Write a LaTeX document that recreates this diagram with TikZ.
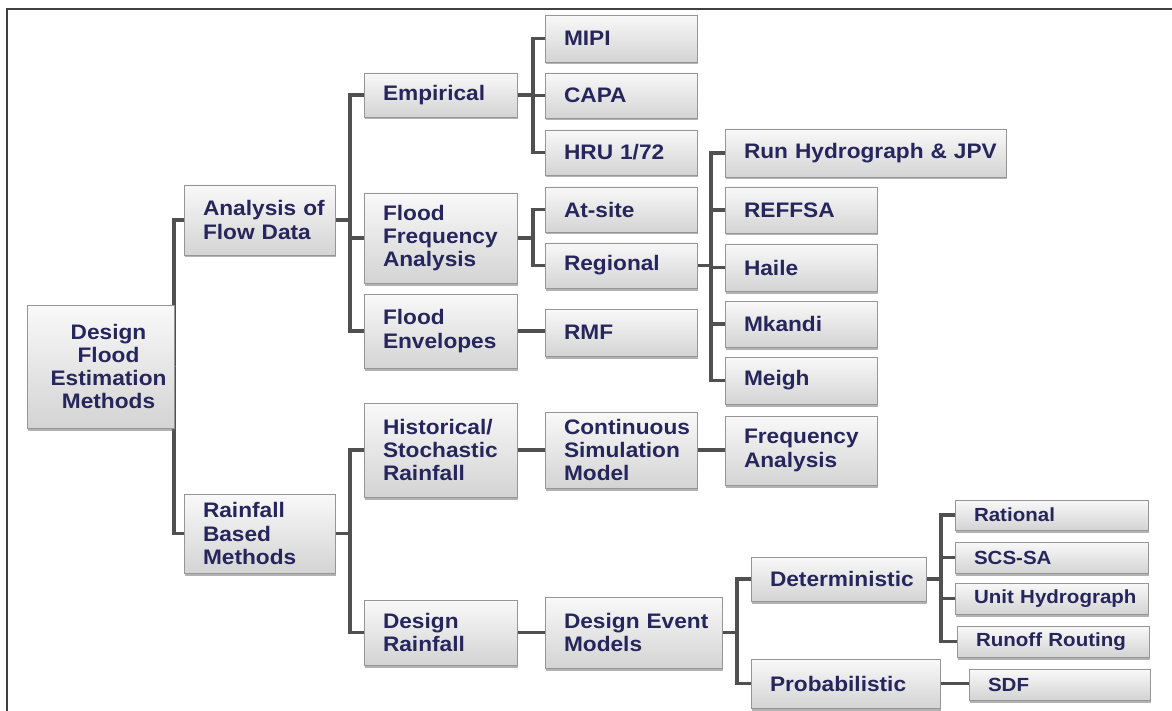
\documentclass[tikz,border=0pt]{standalone}
\usepackage{fontspec}
\setmainfont[FakeStretch=1.08]{Liberation Sans}
\usetikzlibrary{shadows,backgrounds}
\hfuzz=300pt \hbadness=10000
\definecolor{navy}{RGB}{38,38,92}
\definecolor{conncol}{RGB}{80,80,80}
\definecolor{boxedge}{RGB}{150,150,150}
\tikzset{
 box/.style={draw=boxedge, line width=0.8pt, top color=gray!5, bottom color=gray!34,
   drop shadow={shadow xshift=1.2pt, shadow yshift=-2.5pt, opacity=0.5, fill=black!60},
   inner xsep=19pt, inner ysep=0pt, align=left, text=navy,
   font=\fontsize{21}{23.3}\selectfont\bfseries, anchor=center},
 smalltext/.style={font=\fontsize{19}{21}\selectfont\bfseries},
 conn/.style={draw=conncol, line width=3.3pt},
 framebar/.style={draw=black!75, line width=2pt}
}
\newcommand\BoxNode[7][]{%
 \pgfmathsetmacro\bw{#5-#3}\pgfmathsetmacro\bh{#6-#4}%
 \pgfmathsetmacro\tw{#5-#3-38}%
 \pgfmathsetmacro\bcx{(#3+#5)/2}\pgfmathsetmacro\bcy{(#4+#6)/2}%
 \node[box, minimum width=\bw pt, minimum height=\bh pt, text width=\tw pt, #1] (#2) at (\bcx,\bcy) {#7};}
\newcommand\Branch[3]{%
 \coordinate (trk) at (#2,0);
 \foreach \c in {#3} {\draw[conn] (#1.east) -- (#1.east -| trk) |- (\c.west);}}
\newcommand\Straight[2]{\draw[conn] (#1.east) -- (#1.east -| #2.west);}
\begin{document}
\begin{tikzpicture}[x=1pt,y=-1pt]
\useasboundingbox (0,0) rectangle (1172,711);

\BoxNode[align=center, text width=140pt, inner xsep=3pt]{dfem}{27}{305}{174}{428}{\hspace*{16pt}Design\\\hspace*{16pt}Flood\\\hspace*{16pt}Estimation\\\hspace*{16pt}Methods}
\BoxNode{afd}{184}{185}{335}{255}{\mbox{Analysis of}\\\mbox{Flow Data}}
\BoxNode{rbm}{184}{494}{335}{573}{Rainfall\\Based\\Methods}

\BoxNode{emp}{364}{73}{517}{117}{Empirical}
\BoxNode{ffa}{364}{193}{517}{283}{Flood\\Frequency\\Analysis}
\BoxNode{fe}{364}{294}{517}{368}{Flood\\Envelopes}
\BoxNode{hsr}{364}{403}{517}{497}{Historical/\\Stochastic\\Rainfall}
\BoxNode{dr}{364}{600}{517}{665}{Design\\Rainfall}

\BoxNode{mipi}{545}{15}{697}{62}{MIPI}
\BoxNode{capa}{545}{73}{697}{118}{CAPA}
\BoxNode{hru}{545}{130}{697}{175}{\mbox{HRU 1/72}}
\BoxNode{ats}{545}{187}{697}{232}{At-site}
\BoxNode{reg}{545}{243}{697}{288}{Regional}
\BoxNode{rmf}{545}{309}{697}{356}{RMF}
\BoxNode{csm}{545}{412}{697}{488}{Continuous\\Simulation\\Model}
\BoxNode{dem}{545}{597}{722}{668}{\mbox{Design Event}\\Models}

\BoxNode{rh}{725}{129}{1006}{177}{\mbox{Run Hydrograph \& JPV}}
\BoxNode{ref}{725}{187}{877}{233}{REFFSA}
\BoxNode{hai}{725}{244}{877}{291}{Haile}
\BoxNode{mka}{725}{301}{877}{347}{Mkandi}
\BoxNode{mei}{725}{357}{877}{404}{Meigh}
\BoxNode{fa}{725}{416}{877}{485}{Frequency\\Analysis}
\BoxNode{det}{751}{557}{926}{601}{Deterministic}
\BoxNode{pro}{751}{659}{940}{708}{Probabilistic}

\BoxNode[smalltext]{rat}{955}{500}{1148}{530}{Rational}
\BoxNode[smalltext]{scs}{955}{542}{1148}{573}{SCS-SA}
\BoxNode[smalltext]{uh}{955}{583}{1148}{614}{\mbox{Unit Hydrograph}}
\BoxNode[smalltext]{rr}{957}{626}{1149}{657}{\mbox{Runoff Routing}}
\BoxNode[smalltext]{sdf}{969}{669}{1150}{700}{SDF}

\begin{scope}[on background layer]
\fill[white] (0,0) rectangle (1172,711);
\draw[framebar] (7,711) -- (7,9) -- (1172,9);
\Branch{dfem}{174}{afd,rbm}
\Branch{afd}{350}{emp,ffa,fe}
\Branch{rbm}{350}{hsr,dr}
\Branch{emp}{533}{mipi,capa,hru}
\Branch{ffa}{533}{ats,reg}
\Straight{fe}{rmf}
\Straight{hsr}{csm}
\Straight{dr}{dem}
\Branch{reg}{711}{rh,ref,hai,mka,mei}
\Straight{csm}{fa}
\Branch{dem}{737}{det,pro}
\Branch{det}{941}{rat,scs,uh,rr}
\Straight{pro}{sdf}
\end{scope}
\end{tikzpicture}
\end{document}
